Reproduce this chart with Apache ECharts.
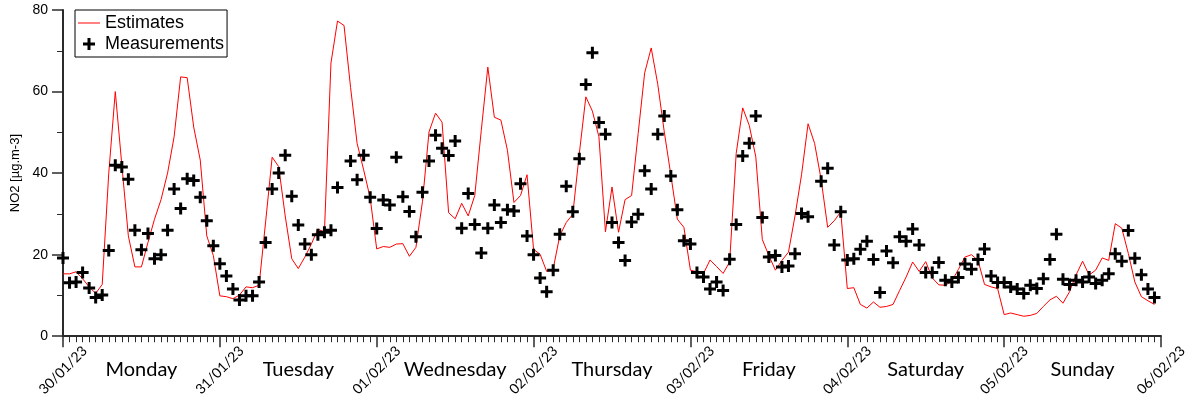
<!DOCTYPE html>
<html>
<head>
<meta charset="utf-8">
<script src="https://cdn.jsdelivr.net/npm/echarts@6/dist/echarts.min.js"></script>
<style>html,body{margin:0;padding:0;background:#fff;}#c{width:1192px;height:399px;}</style>
</head>
<body>
<div id="c"></div>
<script>
const dayNames = ['Monday','Tuesday','Wednesday','Thursday','Friday','Saturday','Sunday'];
const dateLabels = ['30/01/23','31/01/23','01/02/23','02/02/23','03/02/23','04/02/23','05/02/23','06/02/23'];
// hourly values, hour 0 = 30/01/23 00:00
const estimates = [
 15.3,15.3,15.8,14.1,12.1,10.5,12.7,40,60,42,24.6,17,17,23,28.7,33.5,40,48.9,63.6,63.4,51.3,43.2,24.6,19.8,
 9.9,9.7,9.2,10.1,12.1,11.9,12.5,28,43.9,41.6,29.5,19,16.6,19.4,22.6,26.3,25.5,67,77.3,76.2,61,47.3,40.8,33.9,
 21.4,22,21.8,22.6,22.7,19.6,21.8,33,50.1,54.7,52.5,30.3,28.8,32.6,29.5,34.5,50.5,66,53.7,53,45.6,32.8,34.5,39.6,
 21.3,20.1,15.9,16.5,24.6,27.9,29.9,44.8,58.7,55.2,48.9,25.6,36.6,25.5,33.5,34.5,49.7,64.6,70.7,61.8,50.1,39.6,28.7,26.7,
 16.2,15.8,15.4,18.7,17.1,15.4,18.2,44.8,56,51.7,44,23.7,19.8,16.2,18.6,20.6,29.5,39.6,52.1,47.3,38.4,26.7,28.3,30.5,
 11.7,11.9,7.8,6.9,8.4,7.1,7.3,7.8,11.2,14.5,18.2,15.9,18.3,14.3,12.6,12.5,13.5,16.4,19.4,20,18.6,12.7,12.1,11.7,
 5.3,5.7,5.3,4.9,5.1,5.6,7.3,8.9,9.8,8.1,10.9,15,18.4,15,16.2,19.2,18.6,27.6,26.5,20.3,13.3,9.7,8.7,7.8
];
const measurements = [
 19.2,13.1,13.3,15.6,11.8,9.5,10.1,21,41.9,41.5,38.5,26,21.2,25.2,19,20,26,36.1,31.3,38.6,38.2,34.1,28.3,22.2,
 17.8,14.8,11.6,8.9,9.9,9.9,13.3,23,36.1,40,44.4,34.3,27.3,22.6,20,24.9,25.5,26,36.5,null,43,38.4,44.4,34.1,
 26.4,33.4,32.2,43.9,34.2,30.6,24.4,35.3,43,49.3,46.1,44.3,47.9,26.5,35,27.4,20.4,26.5,32.2,27.9,31,30.7,37.4,24.6,
 20,14.3,10.9,16.2,25,36.8,30.5,43.5,61.7,69.5,52.4,49.5,27.9,23,18.6,28,29.9,40.6,36.1,49.5,54,39.3,31,23.4,
 22.6,15.6,14.5,11.6,13.3,11.2,18.9,27.4,44.2,47.3,54,29.1,19.4,19.8,17,17.2,20.2,30.1,29.3,null,38,41.2,22.4,30.5,
 18.7,19,21.3,23.3,18.8,10.7,20.9,18,24.4,23.3,26.3,22.4,15.6,15.6,18.1,13.7,13.3,14.4,17.7,16.4,18.8,21.4,14.8,13.2,
 13.2,12.1,11.6,10.5,12.5,11.7,14.1,18.8,25,14,12.7,13.7,13.3,14.5,12.9,13.7,15.3,20.2,18.4,25.9,19.1,15.1,11.6,9.5
];

const estData = estimates.map((v, i) => [i, v]);
const measData = [];
measurements.forEach((v, i) => { if (v !== null) measData.push([i, v]); });

const plus = 'path://M4.5,0H7.5V4.5H12V7.5H7.5V12H4.5V7.5H0V4.5H4.5Z';
const dash = 'path://M0,0H22V1H0Z';
const axisCol = '#2b2b2b';

const chart = echarts.init(document.getElementById('c'), null, {renderer: 'canvas'});
chart.setOption({
  animation: false,
  backgroundColor: '#fff',
  grid: {left: 63, right: 31, top: 10, bottom: 59, containLabel: false},
  legend: {
    left: 75, top: 10, orient: 'vertical',
    backgroundColor: '#fff', borderColor: '#000', borderWidth: 1, borderRadius: 0,
    padding: [4, 3, 4, 3], itemGap: 3, itemWidth: 22, itemHeight: 12,
    textStyle: {fontFamily: 'Liberation Sans', fontSize: 18, color: '#000'},
    data: [
      {name: 'Estimates', icon: dash, itemStyle: {color: '#ff0000'}},
      {name: 'Measurements', icon: plus}
    ]
  },
  xAxis: [{
    type: 'value', min: 0, max: 168, interval: 24,
    axisLine: {show: true, onZero: false, lineStyle: {color: axisCol, width: 2}},
    axisTick: {show: true, length: 11, lineStyle: {color: axisCol, width: 1.5}},
    minorTick: {show: true, splitNumber: 24, length: 6, lineStyle: {color: axisCol, width: 1}},
    splitLine: {show: false},
    axisLabel: {
      rotate: 45, align: 'center', verticalAlign: 'middle', margin: 34,
      fontFamily: 'Lato', fontSize: 14, color: '#000',
      showMinLabel: true, showMaxLabel: true,
      formatter: v => dateLabels[Math.round(v / 24)]
    }
  }, {
    type: 'category', data: dayNames, boundaryGap: true, position: 'bottom',
    axisLine: {show: false}, axisTick: {show: false}, splitLine: {show: false},
    axisLabel: {margin: 33, fontFamily: 'Lato', fontSize: 20, color: '#000', verticalAlign: 'middle', interval: 0}
  }],
  yAxis: {
    type: 'value', min: 0, max: 80, interval: 20,
    name: 'NO2 [µg.m-3]', nameLocation: 'middle', nameGap: 38,
    nameTextStyle: {fontFamily: 'Liberation Sans', fontSize: 13, color: '#000'},
    axisLine: {show: true, lineStyle: {color: axisCol, width: 2}},
    axisTick: {show: true, length: 11, lineStyle: {color: axisCol, width: 1.5}},
    minorTick: {show: true, splitNumber: 2, length: 6, lineStyle: {color: axisCol, width: 1}},
    splitLine: {show: false},
    axisLabel: {margin: 15, fontFamily: 'Liberation Sans', fontSize: 14, color: '#000'}
  },
  series: [{
    name: 'Estimates', type: 'line', xAxisIndex: 0, data: estData,
    symbol: 'none', showSymbol: false,
    lineStyle: {color: '#ff0000', width: 1}, itemStyle: {color: '#ff0000'}, z: 2
  }, {
    name: 'Measurements', type: 'scatter', xAxisIndex: 0, data: measData,
    symbol: plus, symbolSize: 12,
    itemStyle: {color: '#000', opacity: 1}, z: 3
  }]
});
</script>
</body>
</html>
